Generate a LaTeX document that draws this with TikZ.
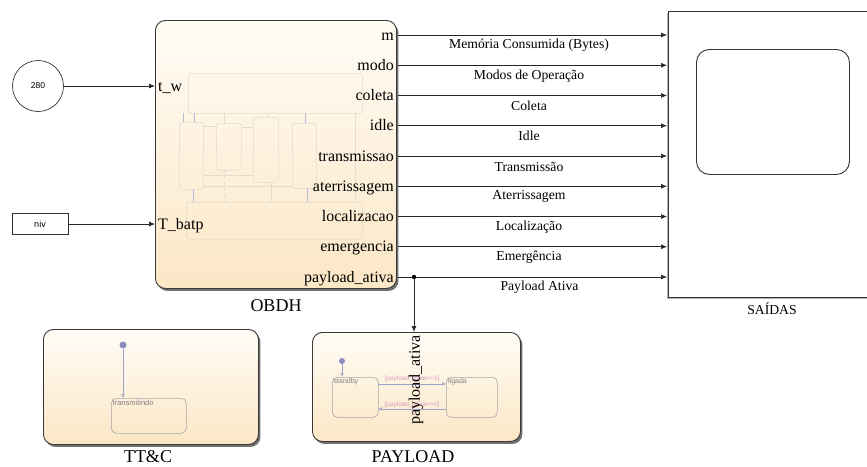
\documentclass[tikz,border=0pt]{standalone}
\usepackage{fontspec}
\setmainfont{Liberation Serif}
\newfontfamily\arialf{Liberation Sans}
\usetikzlibrary{arrows.meta,shadows}
\definecolor{blocktop}{RGB}{255,252,246}
\definecolor{blockbot}{RGB}{252,231,198}
\definecolor{faintgray}{RGB}{228,220,206}
\definecolor{faintblue}{RGB}{184,188,220}
\definecolor{inidot}{RGB}{140,140,192}
\definecolor{inilin}{RGB}{160,160,204}
\definecolor{stgray}{RGB}{165,165,165}
\definecolor{trpink}{RGB}{214,160,196}
\begin{document}
\begin{tikzpicture}[x=1pt,y=-1pt,
  blockbody/.style={draw=black!78, line width=0.9pt, rounded corners=10pt,
    top color=blocktop, bottom color=blockbot, inner sep=0pt,
    drop shadow={shadow xshift=2pt, shadow yshift=-2.5pt, opacity=0.75, fill=black!75}},
  sig/.style={draw=black!85, line width=0.7pt, -{Latex[length=6pt,width=5pt]}},
  portlbl/.style={anchor=base east, inner sep=0pt, font=\fontsize{16}{16}\selectfont},
  inlbl/.style={anchor=base west, inner sep=0pt, font=\fontsize{16}{16}\selectfont},
  elbl/.style={inner sep=0pt, yshift=-10.5pt, xshift=-3.5pt, font=\fontsize{13.7}{14}\selectfont},
  blklbl/.style={inner sep=0pt, font=\fontsize{18}{18}\selectfont},
  faint/.style={draw=faintgray, line width=0.6pt, rounded corners=3pt},
  fline/.style={draw=faintgray, line width=0.6pt},
  bline/.style={draw=faintblue, line width=0.6pt},
  statebox/.style={draw=stgray, line width=0.6pt, rounded corners=5pt, inner sep=0pt},
  stlbl/.style={anchor=north west, inner sep=0pt, text=black!50, font=\arialf\fontsize{7.5}{8}\selectfont},
  ini/.style={circle, fill=inidot, inner sep=0pt, minimum size=7pt},
  trans/.style={draw=inilin, line width=0.6pt, -{Triangle[open,length=4pt,width=3.5pt]}},
  trlbl/.style={inner sep=0pt, text=trpink, font=\arialf\fontsize{6.5}{7}\selectfont}
]
\useasboundingbox (0,0) rectangle (867,466);

% ---------- OBDH block ----------
\node[blockbody, anchor=north west, minimum width=241pt, minimum height=268pt] (obdh) at (155,20) {};
% faint internal chart
\node[faint, anchor=north west, minimum width=174pt, minimum height=40pt, inner sep=0pt] (ctop) at (188,73) {};
\node[faint, anchor=north west, minimum width=176pt, minimum height=37pt, inner sep=0pt] (cbot) at (186,202) {};
\node[faint, anchor=north west, minimum width=24pt, minimum height=67pt, inner sep=0pt] (c1) at (179,122) {};
\node[faint, anchor=north west, minimum width=25pt, minimum height=47pt, inner sep=0pt] (c2) at (216,123) {};
\node[faint, anchor=north west, minimum width=25pt, minimum height=65pt, inner sep=0pt] (c3) at (253,117) {};
\node[faint, anchor=north west, minimum width=24pt, minimum height=65pt, inner sep=0pt] (c4) at (292,123) {};
\draw[bline] (183,113) -- (183,122);
\draw[bline] (194,113) -- (194,122);
\draw[fline] (224,113) -- (224,123);
\draw[fline] (267,113) -- (267,117);
\draw[bline] (305,113) -- (305,123);
\draw[fline] (203,126) -- (216,126);
\draw[fline] (241,127) -- (253,127);
\draw[fline] (203,175) -- (253,175);
\draw[fline] (203,186) -- (292,186);
\draw[fline] (355,113) -- (355,202);
\draw[bline] (193,189) -- (193,202);
\draw[fline, dashed] (224,170) -- (224,202);
\draw[fline] (271,182) -- (271,202);
\draw[bline] (307,188) -- (307,202);

% port labels
\node[portlbl] (pm) at (394,40) {m};
\node[portlbl] (pmodo) at (394,70.25) {modo};
\node[portlbl] (pcol) at (394,100.5) {coleta};
\node[portlbl] (pidle) at (394,130.75) {idle};
\node[portlbl] (ptx) at (394,161) {transmissao};
\node[portlbl] (pat) at (394,191.25) {aterrissagem};
\node[portlbl] (ploc) at (394,221.5) {localizacao};
\node[portlbl] (pem) at (394,251.75) {emergencia};
\node[portlbl] (ppa) at (394,282) {payload\_ativa};
\node[inlbl] (ptw) at (158,91.5) {t\_w};
\node[inlbl] (ptb) at (158,229.5) {T\_batp};
\node[blklbl] (lobdh) at (276,306) {OBDH};

% ---------- inputs ----------
\node[draw=black!80, line width=0.7pt, circle, minimum size=51pt, inner sep=0pt,
  font=\arialf\fontsize{8.5}{9}\selectfont] (c280) at (38,86) {280};
\node[draw=black!80, line width=0.7pt, minimum width=56pt, minimum height=21pt, inner sep=0pt,
  font=\arialf\fontsize{9}{9}\selectfont] (niv) at (40,224) {niv};
\coordinate (itw) at (155,86);
\coordinate (itb) at (155,224);
\draw[sig] (c280) -- (itw);
\draw[sig] (niv) -- (itb);

% ---------- scope ----------
\node[draw=black!80, line width=0.7pt, anchor=north west, minimum width=215pt, minimum height=286pt,
  inner sep=0pt, fill=white,
  drop shadow={shadow xshift=-1pt, shadow yshift=-1.5pt, opacity=0.5, fill=black!60}] (scope) at (668,11) {};
\node[draw=black!80, line width=0.9pt, rounded corners=13pt, anchor=north west,
  minimum width=153pt, minimum height=125pt, inner sep=0pt] (screen) at (696,49) {};
\node[inner sep=0pt, font=\fontsize{13.7}{14}\selectfont] (lsaidas) at (772,309) {SAÍDAS};

% ---------- outputs ----------
\coordinate (o1) at (398,35);     \coordinate (s1) at (667,35);
\coordinate (o2) at (398,65.25);  \coordinate (s2) at (667,65.25);
\coordinate (o3) at (398,95.5);   \coordinate (s3) at (667,95.5);
\coordinate (o4) at (398,125.75); \coordinate (s4) at (667,125.75);
\coordinate (o5) at (398,156);    \coordinate (s5) at (667,156);
\coordinate (o6) at (398,186.25); \coordinate (s6) at (667,186.25);
\coordinate (o7) at (398,216.5);  \coordinate (s7) at (667,216.5);
\coordinate (o8) at (398,246.75); \coordinate (s8) at (667,246.75);
\coordinate (o9) at (398,277);    \coordinate (s9) at (667,277);
\coordinate (jn) at (414,277);
\draw[sig] (o1) -- node[elbl] {Memória Consumida (Bytes)} (s1);
\draw[sig] (o2) -- node[elbl] {Modos de Operação} (s2);
\draw[sig] (o3) -- node[elbl] {Coleta} (s3);
\draw[sig] (o4) -- node[elbl] {Idle} (s4);
\draw[sig] (o5) -- node[elbl] {Transmissão} (s5);
\draw[sig] (o6) -- node[elbl] {Aterrissagem} (s6);
\draw[sig] (o7) -- node[elbl] {Localização} (s7);
\draw[sig] (o8) -- node[elbl] {Emergência} (s8);
\draw[draw=black!85, line width=0.7pt] (o9) -- (jn);
\draw[sig] (jn) -- node[elbl, xshift=2.5pt] {Payload Ativa} (s9);
\fill[black] (jn) circle (2.2pt);

% ---------- TT&C block ----------
\node[blockbody, anchor=north west, minimum width=215pt, minimum height=115pt] (ttc) at (43,329) {};
\node[blklbl] (lttc) at (148,456.5) {TT\&C};
\node[ini] (i1) at (123,345) {};
\node[statebox, anchor=north west, minimum width=75pt, minimum height=35pt] (stx) at (111,398) {};
\node[stlbl] (ltx) at (112.5,400) {transmitindo};
\draw[trans] (i1) -- (i1 |- stx.north);

% ---------- PAYLOAD block ----------
\coordinate (ppin) at (414,332);
\draw[sig] (jn) -- (ppin);
\node[blockbody, anchor=north west, minimum width=208pt, minimum height=109pt] (pay) at (312,332) {};
\node[blklbl] (lpay) at (413,456.5) {PAYLOAD};
\node[ini, minimum size=6pt] (i2) at (342,361) {};
\node[statebox, anchor=north west, minimum width=46pt, minimum height=40pt] (sst) at (332,377) {};
\node[statebox, anchor=north west, minimum width=51pt, minimum height=40pt] (slg) at (446,377) {};
\node[stlbl, font=\arialf\fontsize{7}{7}\selectfont] (lst) at (333.5,378.5) {standby};
\node[stlbl, font=\arialf\fontsize{7}{7}\selectfont] (llg) at (448,378.5) {ligada};
\draw[trans] (i2) -- (i2 |- sst.north);
\coordinate (a1) at (378,384); \coordinate (b1) at (446,384);
\coordinate (a2) at (446,409); \coordinate (b2) at (378,409);
\draw[trans] (a1) -- node[trlbl, yshift=5pt] {[payload\_ativa==1]} (b1);
\draw[trans] (a2) -- node[trlbl, yshift=4.5pt] {[payload\_ativa==0]} (b2);
\node[rotate=90, inner sep=0pt, font=\fontsize{16}{16}\selectfont] (pav) at (416,380) {payload\_ativa};
\end{tikzpicture}
\end{document}
